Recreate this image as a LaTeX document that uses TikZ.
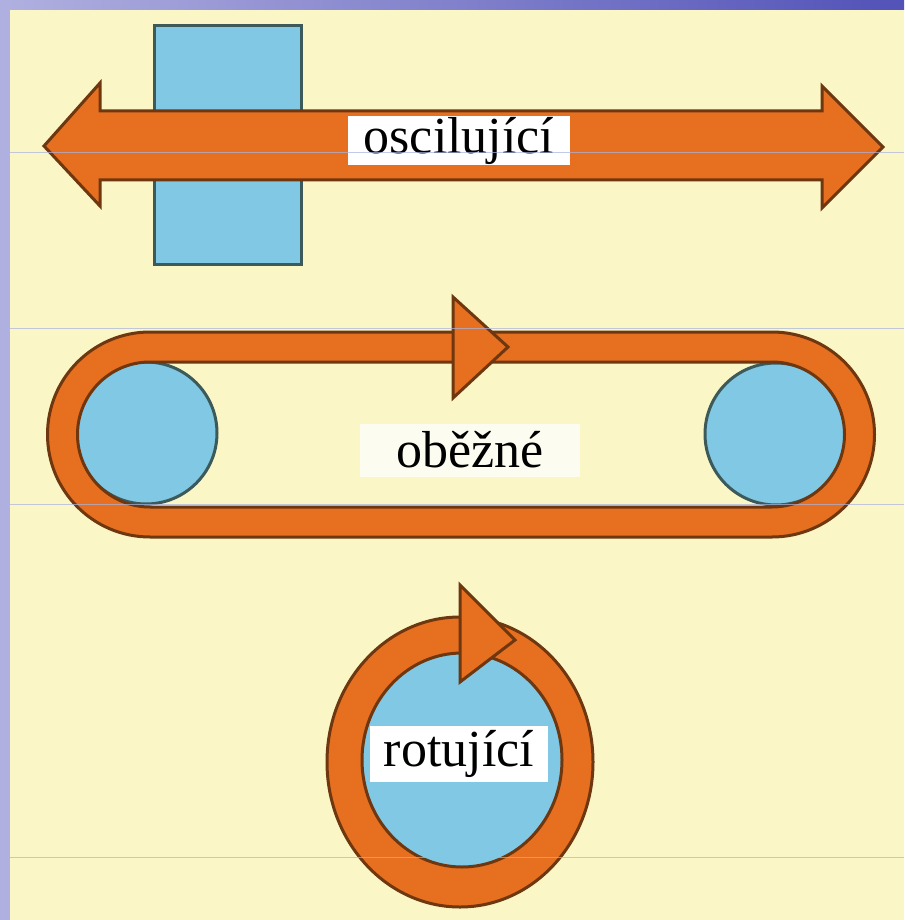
\documentclass[tikz,border=0pt]{standalone}
\usepackage{fontspec}
\setmainfont{Liberation Serif}
\definecolor{bgyel}{RGB}{250,246,198}
\definecolor{orng}{RGB}{230,112,32}
\definecolor{brwn}{RGB}{110,55,15}
\definecolor{lblue}{RGB}{128,200,228}
\definecolor{bline}{RGB}{60,90,90}
\definecolor{stripL}{RGB}{176,176,224}
\definecolor{stripR}{RGB}{82,82,184}
\definecolor{guide}{RGB}{170,180,225}
\begin{document}
\begin{tikzpicture}[x=1pt,y=-1pt,
  orangeshape/.style={fill=orng,draw=brwn,line width=3pt,line join=miter},
  bluepart/.style={fill=lblue,draw=bline,line width=3pt},
  labelbox/.style={fill=white,inner sep=0pt,font=\fontsize{52}{60}\selectfont,text=black},
  guideline/.style={draw=guide,line width=0.8pt,opacity=0.7}]
\useasboundingbox (0,0) rectangle (904,920);
% background
\fill[bgyel] (0,0) rectangle (904,920);
\shade[left color=stripL,right color=stripR] (0,0) rectangle (904,10);
\fill[stripL] (0,0) rectangle (10,920);
% oscillating: block and double arrow
\node[bluepart,minimum width=147pt,minimum height=239pt,anchor=north west,inner sep=0pt] (block) at (153,24) {};
\draw[orangeshape] (44,146) -- (100,83) -- (100,111) -- (822,111) -- (822,86)
  -- (883,147) -- (822,208) -- (822,180) -- (100,180) -- (100,206) -- cycle;
\node[labelbox,minimum width=222pt,minimum height=49pt] (osc) at (459,141) {oscilující};
% circulating: pulleys and belt
\node[bluepart,circle,minimum size=142pt,inner sep=0pt] (p1) at (146,433) {};
\node[bluepart,circle,minimum size=142pt,inner sep=0pt] (p2) at (776,434) {};
\draw[orangeshape,even odd rule]
  (150,332) -- (772,332) arc[start angle=-90,end angle=90,radius=102.5] -- (150,537) arc[start angle=90,end angle=270,radius=102.5] -- cycle
  (150,362) -- (772,362) arc[start angle=-90,end angle=90,radius=72.5] -- (150,507) arc[start angle=90,end angle=270,radius=72.5] -- cycle;
\draw[orangeshape] (453,297) -- (508,347) -- (453,398) -- cycle;
\node[labelbox,fill opacity=0.75,text opacity=1,minimum width=220pt,minimum height=53pt] (obe) at (470,450) {oběžné};
% rotating: disc and ring
\fill[lblue] (462,760) ellipse[x radius=102,y radius=109];
\draw[orangeshape,line join=round,even odd rule] (460,762) ellipse[x radius=133,y radius=145]
  (462,760) ellipse[x radius=100,y radius=107];
\draw[orangeshape] (460,585) -- (515,640) -- (460,682) -- cycle;
\node[labelbox,minimum width=178pt,minimum height=56pt] (rot) at (459,754) {rotující};
% faint guide lines
\foreach \gy in {152,328,504,857} \draw[guideline] (10,\gy) -- (904,\gy);
\end{tikzpicture}
\end{document}
